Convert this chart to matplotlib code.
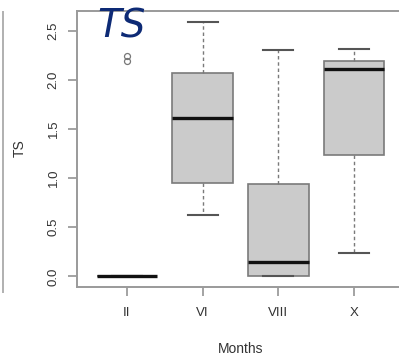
import numpy as np
import matplotlib
matplotlib.use("Agg")
import matplotlib.pyplot as plt
from matplotlib.lines import Line2D

# Data
months = ["II", "VI", "VIII", "X"]
whis_lo = [0.0, 0.62, 0.0, 0.24]
q1 = [0.0, 0.95, 0.0, 1.23]
median = [0.0, 1.61, 0.15, 2.11]
q3 = [0.0, 2.07, 0.94, 2.19]
whis_hi = [0.0, 2.59, 2.30, 2.31]
outliers = [[2.19, 2.245], [], [], []]

stats = []
for i, m in enumerate(months):
    stats.append(dict(label=m, whislo=whis_lo[i], q1=q1[i], med=median[i],
                      q3=q3[i], whishi=whis_hi[i], fliers=outliers[i]))

fig = plt.figure(figsize=(3.99, 3.58), dpi=100)
ax = fig.add_axes([77 / 399, 71.3 / 358, 327 / 399, 276.2 / 358])

ax.bxp(stats, positions=range(1, len(months) + 1), widths=0.8,
       patch_artist=True, showfliers=True,
       boxprops=dict(facecolor="#cbcbcb", edgecolor="#7a7a7a", linewidth=1.2),
       medianprops=dict(color="#111111", linewidth=2.4),
       whiskerprops=dict(color="#7a7a7a", linewidth=1.0, linestyle=(0, (2.5, 2))),
       capprops=dict(color="#555555", linewidth=1.5),
       capwidths=0.4,
       flierprops=dict(marker="o", markerfacecolor="none", markeredgecolor="#777777",
                       markersize=4.3, markeredgewidth=0.9))

ax.set_xlim(0.34, 4.66)
ax.set_ylim(-0.104, 2.704)
ax.set_yticks([0.0, 0.5, 1.0, 1.5, 2.0, 2.5])
ax.set_yticklabels(["0.0", "0.5", "1.0", "1.5", "2.0", "2.5"], rotation=90, va="center")
ax.set_xticks(range(1, len(months) + 1))
ax.set_xticklabels(months)

for s in ax.spines.values():
    s.set_color("#9a9a9a")
    s.set_linewidth(1.4)
ax.tick_params(direction="out", length=6.5, width=1.1, color="#8a8a8a",
               labelcolor="#333333", labelsize=9.5)
ax.tick_params(axis="y", pad=6)
ax.tick_params(axis="x", pad=8)
for lbl in ax.get_xticklabels() + ax.get_yticklabels():
    lbl.set_family("Liberation Sans")

ax.set_xlabel("Months", fontsize=10, family="Liberation Sans", color="#333333", labelpad=17)
ax.set_ylabel("TS", fontsize=10, family="Liberation Sans", color="#333333", labelpad=15)

# edge of the neighbouring panel
fig.add_artist(Line2D([3 / 399, 3 / 399], [1 - 12 / 358, 1 - 292 / 358],
                      transform=fig.transFigure, color="#b0b0b0", linewidth=1.4))

fig.text(97 / 399, 1 - 37 / 358, "TS", fontsize=28, style="italic",
         color="#0d2a75", va="baseline", ha="left")

fig.savefig("out.png", dpi=100)
